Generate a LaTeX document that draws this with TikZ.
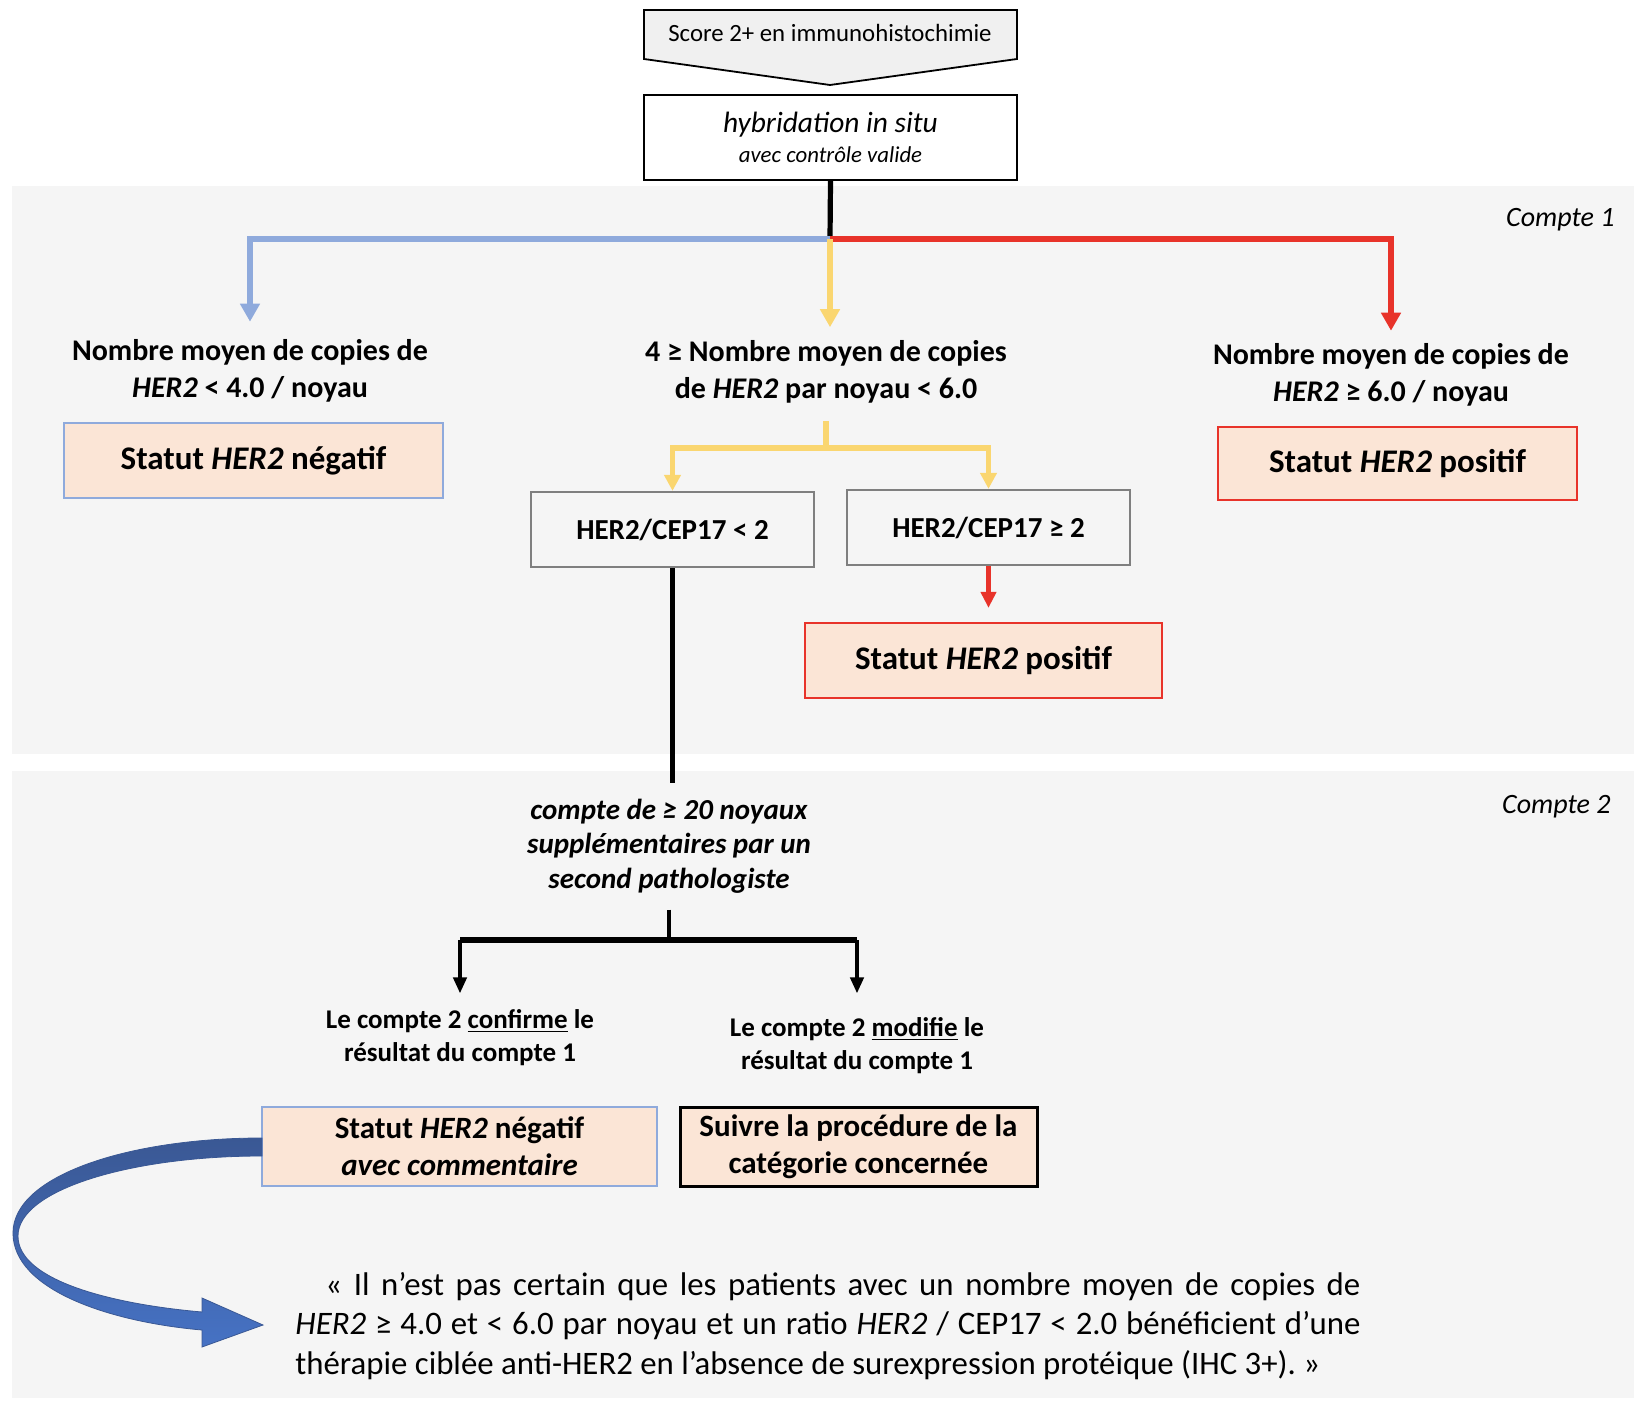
\documentclass[tikz,border=0pt]{standalone}
\usepackage{fontspec}
\setmainfont{Carlito}
\usetikzlibrary{arrows.meta}
\definecolor{panelgray}{HTML}{F5F5F5}
\definecolor{scoregray}{HTML}{F0F0F0}
\definecolor{peach}{HTML}{FBE5D6}
\definecolor{herblue}{HTML}{8FAADC}
\definecolor{heryellow}{HTML}{FAD670}
\definecolor{herred}{HTML}{E8332A}
\definecolor{ratiogray}{HTML}{7F7F7F}
\definecolor{curvedark}{HTML}{3A5894}
\definecolor{curvelight}{HTML}{4672C4}
\newcommand{\lblfont}{\bfseries\fontsize{15}{18.5}\selectfont}
\newcommand{\statfont}{\bfseries\fontsize{16.5}{20}\selectfont}

\begin{document}
\begin{tikzpicture}[x=0.5pt,y=-0.5pt,
  every node/.style={inner sep=0pt},
  lbl/.style={font=\lblfont, align=center},
  statbox/.style={draw=#1, fill=peach, line width=1.1pt, font=\statfont,
    minimum width=179pt, minimum height=37pt},
  ratiobox/.style={draw=ratiogray, line width=1.1pt, font=\bfseries\fontsize{14.5}{17}\selectfont,
    minimum width=141.5pt, minimum height=37.5pt},
  cpt/.style={font=\itshape\fontsize{14}{16}\selectfont, anchor=east},
  colline/.style={draw=#1, line width=2.6pt, -{Triangle[length=9pt,width=9.5pt]}},
  blkline/.style={line width=2.2pt, -{Triangle[length=8pt,width=6.5pt]}}]

  % panels
  \useasboundingbox (0,0) rectangle (1634,1401);
  \fill[panelgray] (12,186) rectangle (1634,754);
  \fill[panelgray] (12,771) rectangle (1634,1398);

  % top of the chart
  \filldraw[draw=black, fill=scoregray, line width=0.9pt]
    (644,10) -- (1017,10) -- (1017,59) -- (830,85) -- (644,59) -- cycle;
  \node (score) at (830,33) {\fontsize{12.4}{15}\selectfont Score 2+ en immunohistochimie};
  \node[draw, fill=white, line width=0.9pt, minimum width=186.5pt, minimum height=42.5pt,
    align=center, font=\itshape\fontsize{11.4}{15}\selectfont] (hybrid) at (830.5,137.5)
    {{\fontsize{14.7}{15}\selectfont hybridation in situ}\\avec contrôle valide};

  \coordinate (fork) at (830,239);
  \node[cpt] (cpt1) at (1615,220) {Compte 1};

  % count 1
  \node[lbl] (neglbl) at (250,370.5) {Nombre moyen de copies de\\\textit{HER2} < 4.0 / noyau};
  \node[lbl] (midlbl) at (826,372) {4 ≥ Nombre moyen de copies\\de \textit{HER2} par noyau < 6.0};
  \node[lbl] (poslbl) at (1391,374.5) {Nombre moyen de copies de\\\textit{HER2} ≥ 6.0 / noyau};

  \node[statbox=herblue, minimum width=189.5pt, minimum height=37.5pt] (negleft) at (253.5,460.5)
    {Statut \textit{HER2} négatif};
  \node[statbox=herred, minimum width=179.5pt, minimum height=36.5pt] (posright) at (1397.5,463.5)
    {Statut \textit{HER2} positif};

  \node[ratiobox] (ltwo) at (672.5,529.5) {HER2/CEP17 < 2};
  \node[ratiobox] (gtwo) at (988.5,527.5) {HER2/CEP17 ≥ 2};
  \node[statbox=herred, minimum width=178.5pt, minimum height=37.5pt] (posmid) at (983.5,660.5)
    {Statut \textit{HER2} positif};

  \coordinate (ysplit) at (826,448);

  \draw[line width=2.6pt] (hybrid.south) -- (fork);
  \draw[colline=herblue, shorten >=8.5pt] (fork) -| (neglbl.north);
  \draw[colline=herred, shorten >=6pt] (fork) -| (poslbl.north);
  \draw[colline=heryellow, shorten >=6.5pt] (fork) -- (fork |- midlbl.north);
  \draw[line width=2.6pt, draw=heryellow, shorten <=8.5pt] (midlbl.south) -- (ysplit);
  \draw[colline=heryellow, -{Triangle[length=8pt,width=8pt]}] (ysplit) -| (ltwo.north);
  \draw[colline=heryellow, -{Triangle[length=8pt,width=8pt]}] (ysplit) -| (gtwo.north);
  \draw[colline=herred, -{Triangle[length=8pt,width=7.5pt]}, shorten >=7pt]
    (gtwo.south) -- (gtwo.south |- posmid.north);

  % count 2
  \node[cpt] (cpt2) at (1611,807) {Compte 2};
  \node[align=center, font=\bfseries\itshape\fontsize{14.5}{17.25}\selectfont] (second) at (669,846)
    {compte de ≥ 20 noyaux\\supplémentaires par un\\second pathologiste};
  \draw[line width=2.2pt, shorten >=7.5pt] (ltwo.south) -- (ltwo.south |- second.north);

  \node[align=center, font=\bfseries\fontsize{13.5}{16.5}\selectfont] (confirm) at (460,1038)
    {Le compte 2 \underline{confirme} le\\résultat du compte 1};
  \node[align=center, font=\bfseries\fontsize{13.5}{16.5}\selectfont] (modify) at (857,1046)
    {Le compte 2 \underline{modifie} le\\résultat du compte 1};

  \coordinate (bsplit) at (669,940);
  \draw[line width=2.2pt, shorten <=8pt] (second.south) -- (bsplit);
  \draw[line width=3.2pt] (bsplit -| confirm) -- (bsplit -| modify);
  \draw[blkline, shorten >=8pt] (bsplit -| confirm) -- (confirm.north);
  \draw[blkline, shorten >=12pt] (bsplit -| modify) -- (modify.north);

  \node[statbox=herblue, minimum width=197.5pt, minimum height=39.5pt, align=center,
    font=\bfseries\fontsize{15.5}{18.5}\selectfont] (negcom) at (459.5,1146.5)
    {Statut \textit{HER2} négatif\\\textit{avec commentaire}};
  \node[statbox=black, line width=1.5pt, minimum width=178.5pt, minimum height=39.5pt, align=center,
    font=\bfseries\fontsize{15.5}{18.5}\selectfont] (follow) at (858.5,1146.5)
    {Suivre la procédure de la\\catégorie concernée};

  % curved arrow to the quote
  \shade[top color=curvedark, bottom color=curvelight, draw=curvedark, line width=0.4pt]
    (262,1138) .. controls (130,1138) and (13,1175) .. (13,1233)
    .. controls (13,1290) and (110,1322) .. (202,1330) -- (202,1347) -- (263,1325)
    -- (202,1298) -- (202,1312) .. controls (110,1304) and (18,1280) .. (18,1236)
    .. controls (18,1190) and (130,1156) .. (262,1156) -- cycle;

  \node[anchor=base west, text width=532.5pt, align=justify,
    font=\fontsize{16.4}{19.75}\selectfont] (quote) at (295,1295)
    {\hyphenpenalty=10000\tolerance=9999\emergencystretch=20pt
     \hspace*{15pt}«~Il n’est pas certain que les patients avec un nombre moyen de copies de\linebreak
     \textit{HER2} ≥ 4.0 et < 6.0 par noyau et un ratio \textit{HER2} / CEP17 < 2.0 bénéficient d’une\linebreak
     thérapie ciblée anti-HER2 en l’absence de surexpression protéique (IHC 3+).~»};

\end{tikzpicture}
\end{document}
